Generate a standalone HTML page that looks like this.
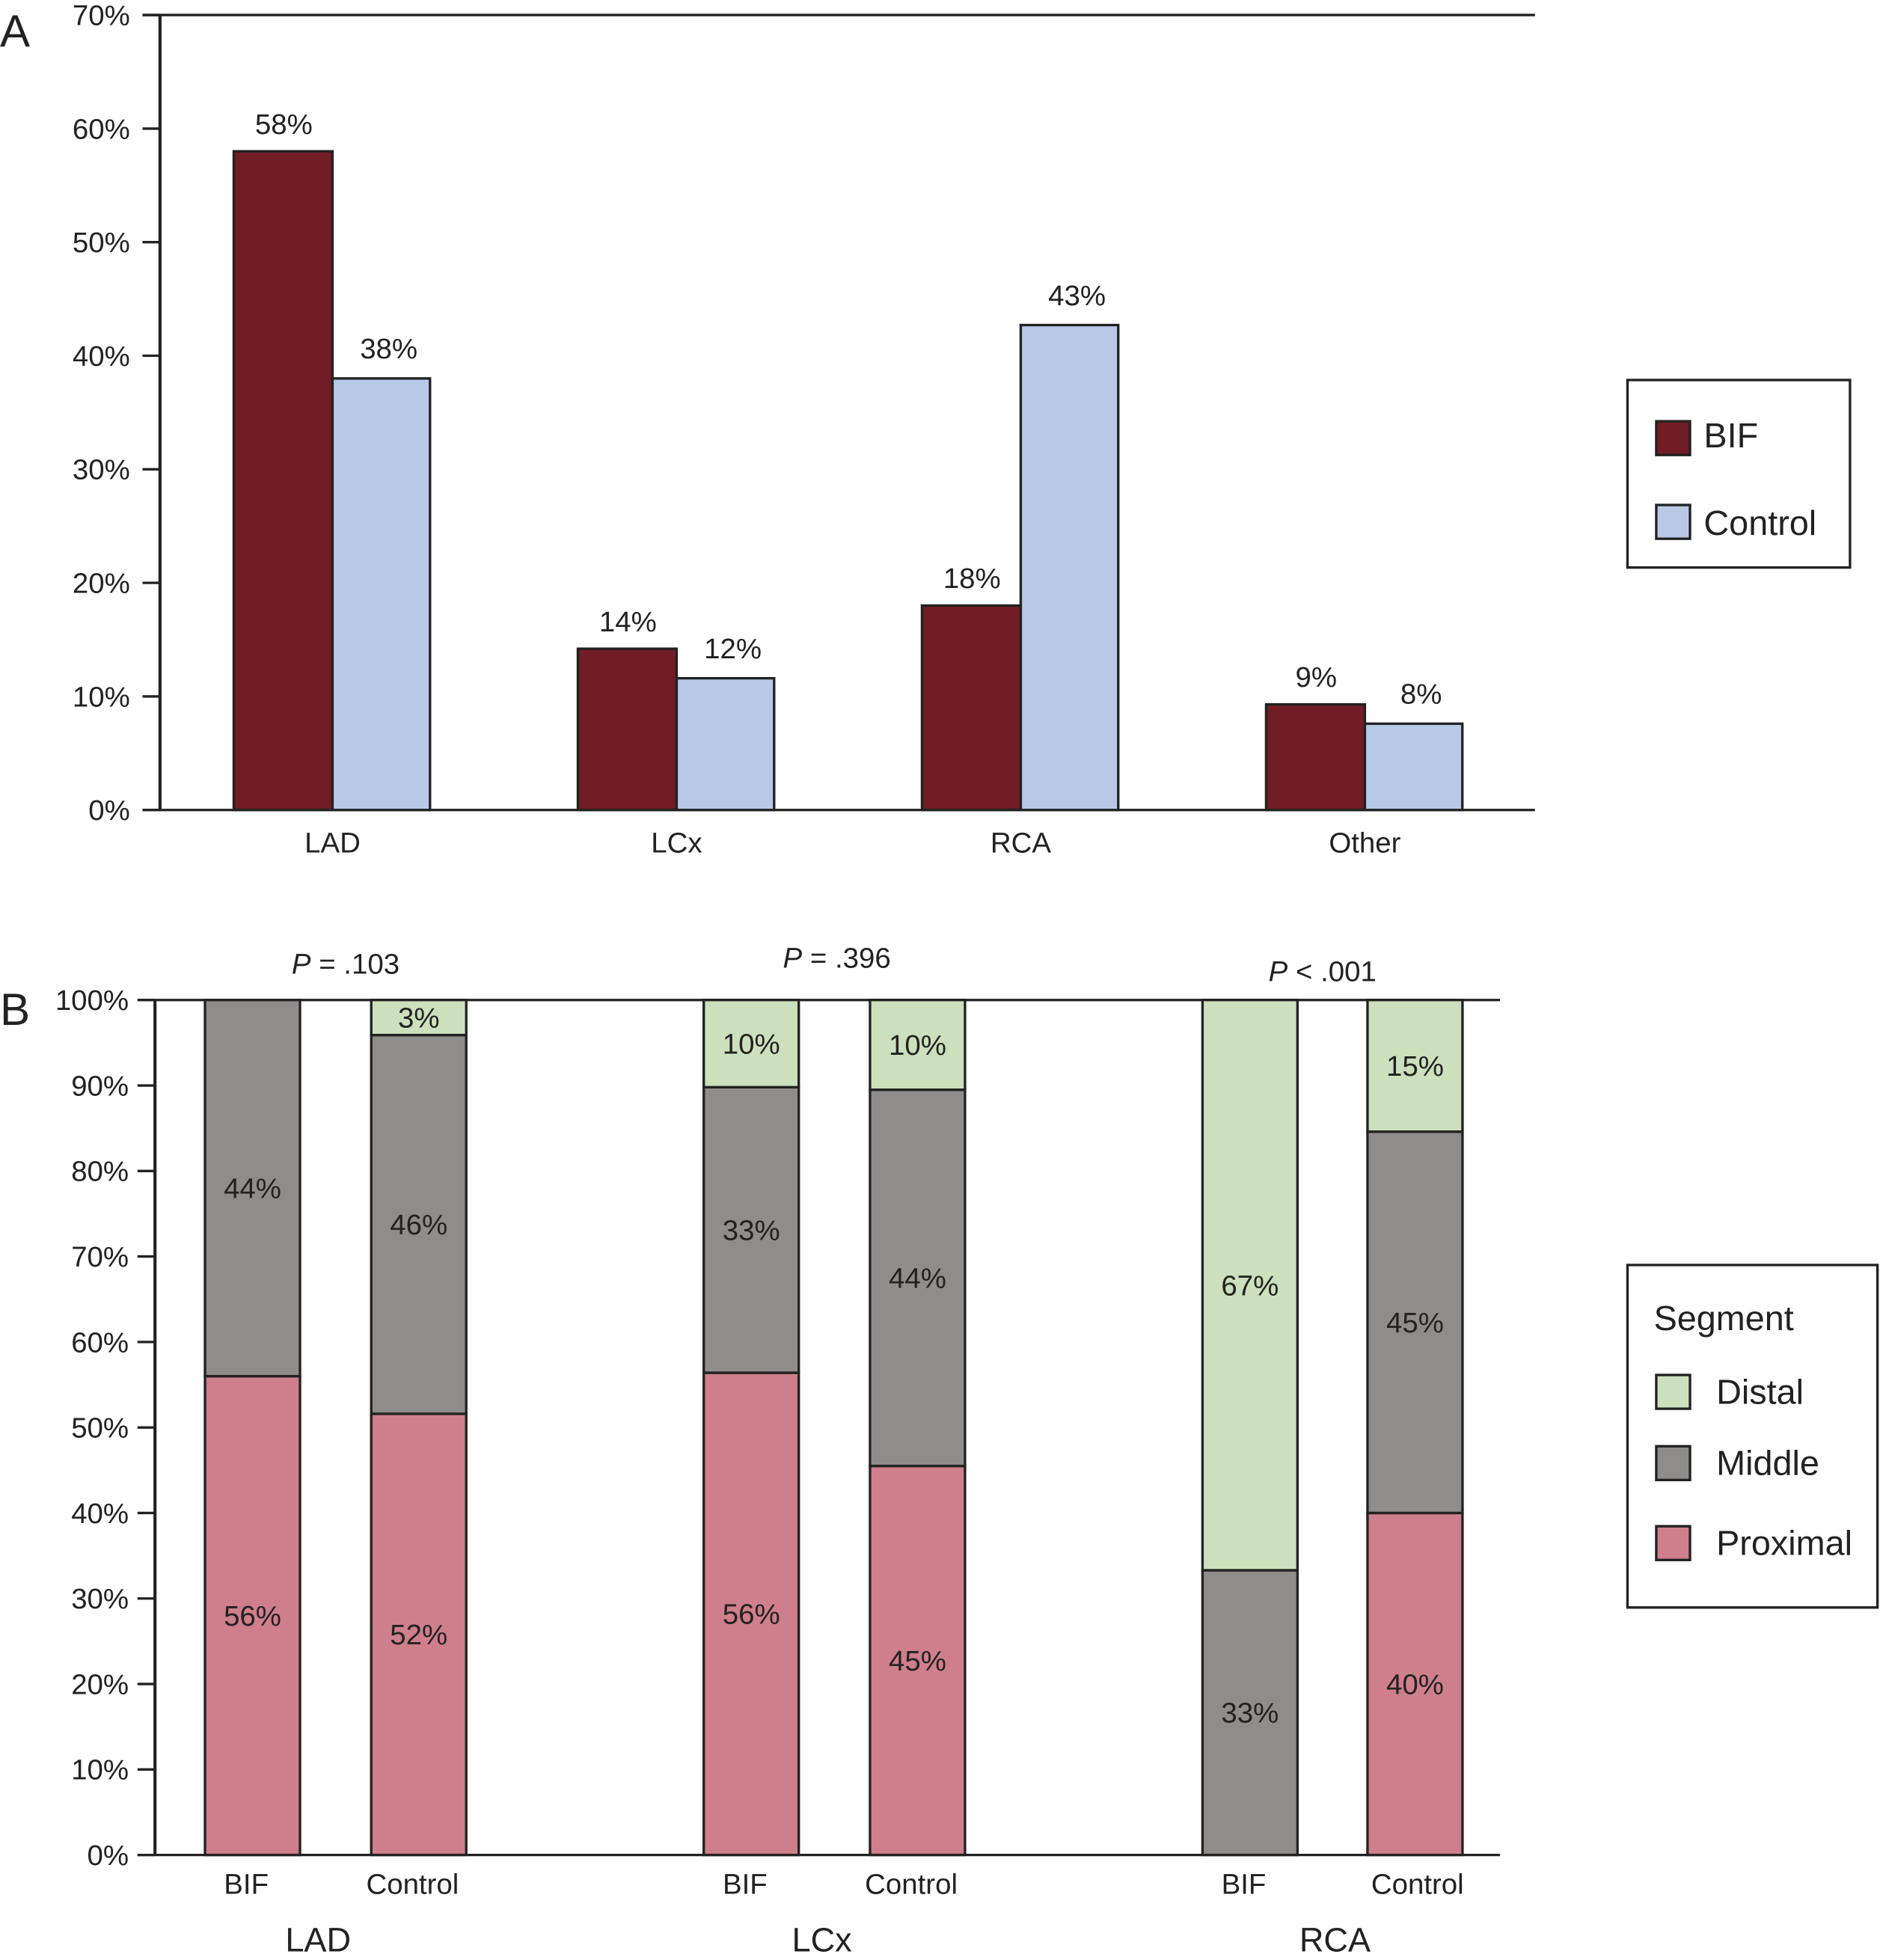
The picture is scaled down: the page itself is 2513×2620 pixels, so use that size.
<!DOCTYPE html>
<html><head><meta charset="utf-8"><style>
html,body{margin:0;padding:0;background:#fff}
svg{display:block}
text{font-family:"Liberation Sans",Arial,sans-serif;fill:#222}
</style></head><body>
<svg id="chart" width="2513" height="2620" viewBox="0 0 1504 1568" xmlns="http://www.w3.org/2000/svg">
<g id="A"></g>
<g id="B"></g>
</svg>
<script>
// Panel A data
const catsA = ["LAD","LCx","RCA","Other"];
const bifA = [58,14.2,18,9.3];
const ctrlA = [38,11.6,42.7,7.6];
const bifLabelsA = ["58%","14%","18%","9%"];
const ctrlLabelsA = ["38%","12%","43%","8%"];
const ticksA = [0,10,20,30,40,50,60,70];
// Panel B data
const groupsB = ["LAD","LCx","RCA"];
const barNamesB = ["BIF","Control","BIF","Control","BIF","Control"];
const proximalB = [56,51.6,56.4,45.5,0,40];
const middleB = [44,44.3,33.4,44,33.3,44.6];
const distalB = [0,4.1,10.2,10.5,66.7,15.4];
const proxLabelsB = ["56%","52%","56%","45%","","40%"];
const midLabelsB = ["44%","46%","33%","44%","33%","45%"];
const distLabelsB = ["","3%","10%","10%","67%","15%"];
const pValuesB = [" = .103"," = .396"," < .001"];
const ticksB = [0,10,20,30,40,50,60,70,80,90,100];

const NS="http://www.w3.org/2000/svg";
function mk(parent,tag,attrs,txt){const e=document.createElementNS(NS,tag);for(const k in attrs)e.setAttribute(k,attrs[k]);if(txt!==undefined)e.textContent=txt;parent.appendChild(e);return e;}

// ---- Panel A
const A=document.getElementById('A');
const yA=v=>648-v*(636/70);
const cxA=i=>266+i*275.3;
let t=mk(A,'text',{x:0,y:37,'font-size':36});


t.textContent='A';
ticksA.forEach(v=>{
  let l=mk(A,'line',{x1:114,x2:128,y1:yA(v),y2:yA(v),stroke:'#222','stroke-width':2});
  
  
  let tx=mk(A,'text',{x:104,y:yA(v)+8,'font-size':23,'text-anchor':'end'},v+'%');
  
  
});
mk(A,'line',{x1:128,x2:128,y1:12,y2:648,stroke:'#222','stroke-width':2.5});
mk(A,'line',{x1:114,x2:1228,y1:12,y2:12,stroke:'#222','stroke-width':2});
mk(A,'line',{x1:114,x2:1228,y1:648,y2:648,stroke:'#222','stroke-width':2});
catsA.forEach((c,i)=>{
  const cx=cxA(i);
  let b=mk(A,'rect',{x:cx-79,y:yA(bifA[i]),width:79,height:648-yA(bifA[i]),fill:'#721c26',stroke:'#222','stroke-width':2});
  
  
  let r=mk(A,'rect',{x:cx,y:yA(ctrlA[i]),width:78,height:648-yA(ctrlA[i]),fill:'#b8c9e8',stroke:'#222','stroke-width':2});
  
  
  let l1=mk(A,'text',{x:cx-39,y:yA(bifA[i])-14,'font-size':23,'text-anchor':'middle'},bifLabelsA[i]);
  
  
  let l2=mk(A,'text',{x:cx+45,y:yA(ctrlA[i])-16,'font-size':23,'text-anchor':'middle'},ctrlLabelsA[i]);
  
  
  let cl=mk(A,'text',{x:cx,y:682,'font-size':23,'text-anchor':'middle'},c);
  
  
});
let lg=mk(A,'g',{});


mk(lg,'rect',{x:1302,y:304,width:178,height:150,fill:'#fff',stroke:'#222','stroke-width':2});
mk(lg,'rect',{x:1325,y:337,width:27,height:27,fill:'#721c26',stroke:'#222','stroke-width':2});
mk(lg,'text',{x:1363,y:358,'font-size':28},'BIF');
mk(lg,'rect',{x:1325,y:404,width:27,height:27,fill:'#b8c9e8',stroke:'#222','stroke-width':2});
mk(lg,'text',{x:1363,y:428,'font-size':28},'Control');

// ---- Panel B
const B=document.getElementById('B');
const yB=v=>1484-v*6.84;
const barX=[164,297,563,696,962,1094];
t=mk(B,'text',{x:0,y:820,'font-size':36});


t.textContent='B';
ticksB.forEach(v=>{
  let l=mk(B,'line',{x1:110,x2:124,y1:yB(v),y2:yB(v),stroke:'#222','stroke-width':2});
  
  
  let tx=mk(B,'text',{x:103,y:yB(v)+8,'font-size':23,'text-anchor':'end'},v+'%');
  
  
});
mk(B,'line',{x1:124,x2:124,y1:800,y2:1484,stroke:'#222','stroke-width':2.5});
mk(B,'line',{x1:110,x2:1200,y1:800,y2:800,stroke:'#222','stroke-width':2});
mk(B,'line',{x1:110,x2:1200,y1:1484,y2:1484,stroke:'#222','stroke-width':2});
const segColors=['#cf7f8b','#8f8d8b','#cde0bd'];
barNamesB.forEach((n,i)=>{
  const x=barX[i];
  const vals=[proximalB[i],middleB[i],distalB[i]];
  const labs=[proxLabelsB[i],midLabelsB[i],distLabelsB[i]];
  const segN=['proximal','middle','distal'];
  let base=0;
  vals.forEach((v,k)=>{
    if(v<=0)return;
    let top=Math.min(base+v,100);
    let s=mk(B,'rect',{x:x,y:yB(top),width:76,height:yB(base)-yB(top),fill:segColors[k],stroke:'#222','stroke-width':2});
    
    
    if(labs[k]){
      let tl=mk(B,'text',{x:x+38,y:(yB(top)+yB(base))/2+8,'font-size':23,'text-anchor':'middle'},labs[k]);
      
      
    }
    base=top;
  });
  let bl=mk(B,'text',{x:x+33+(n==='Control'&&i===5?7:0),y:1515,'font-size':23,'text-anchor':'middle'},n);
  
  
});
const pY=[779,774,785];
const gOff=[-14,-10,2];
const pOff=[0,-6,-16];
groupsB.forEach((g,j)=>{
  const cx=(barX[2*j]+barX[2*j+1]+76)/2;
  let gl=mk(B,'text',{x:cx+gOff[j],y:1561,'font-size':27,'text-anchor':'middle'},g);
  
  
  let pt=mk(B,'text',{x:cx+8+pOff[j],y:pY[j],'font-size':23,'text-anchor':'middle'});
  
  
  mk(pt,'tspan',{'font-style':'italic'},'P');
  mk(pt,'tspan',{},pValuesB[j]);
});
let lg2=mk(B,'g',{});


mk(lg2,'rect',{x:1302,y:1012,width:200,height:274,fill:'#fff',stroke:'#222','stroke-width':2});
mk(lg2,'text',{x:1323,y:1064,'font-size':28},'Segment');
[['Distal','#cde0bd',1100],['Middle','#8f8d8b',1157],['Proximal','#cf7f8b',1221]].forEach(d=>{
  mk(lg2,'rect',{x:1325,y:d[2],width:27,height:27,fill:d[1],stroke:'#222','stroke-width':2});
  mk(lg2,'text',{x:1373,y:d[2]+23,'font-size':28},d[0]);
});
</script>
</body></html>
